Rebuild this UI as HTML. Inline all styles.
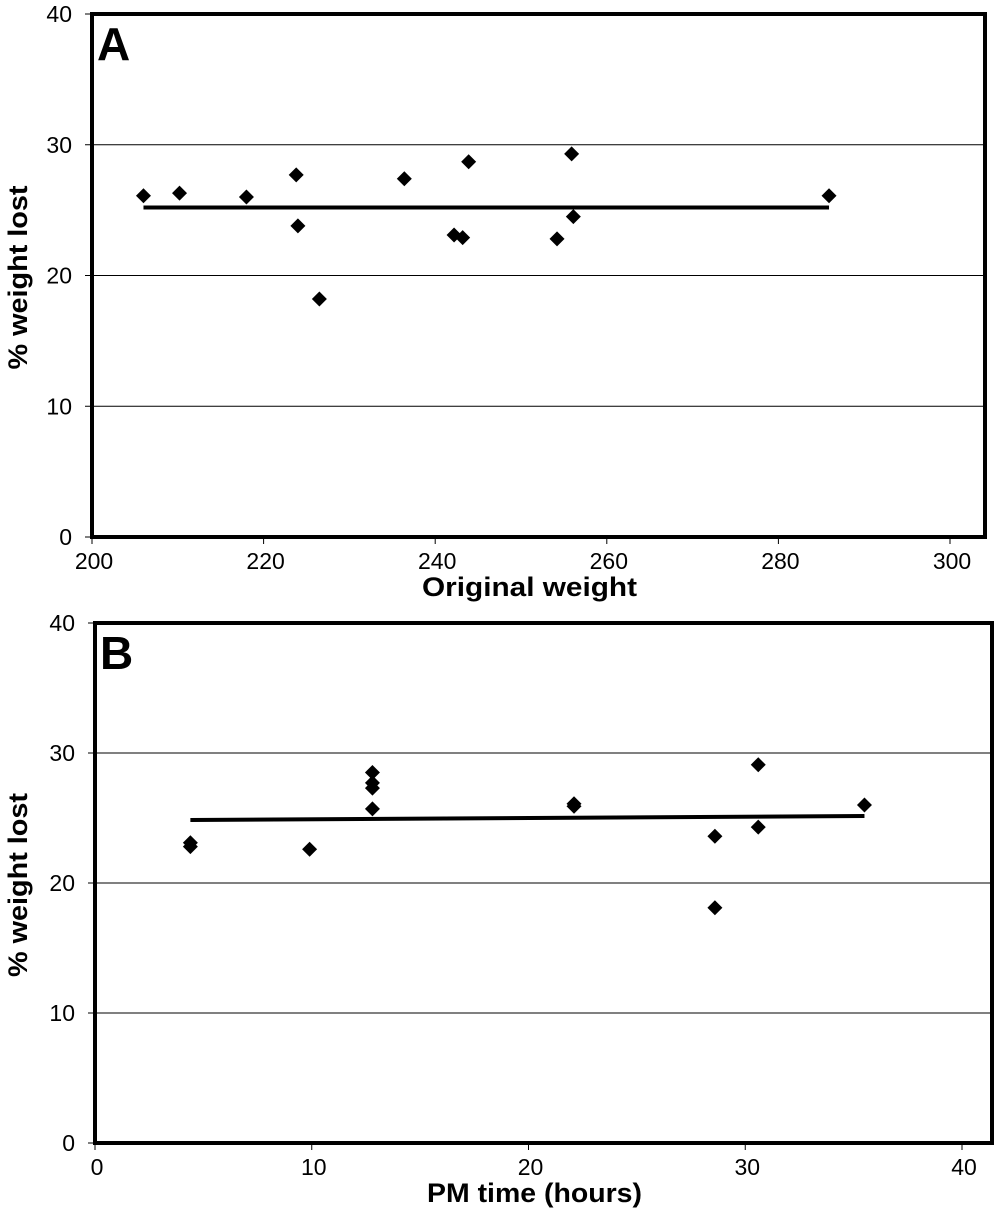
<!DOCTYPE html>
<html><head><meta charset="utf-8"><style>
body{margin:0;background:#fff}
svg text{font-family:"Liberation Sans",Arial,sans-serif}
</style></head><body>
<svg id="chart" width="1000" height="1214" xmlns="http://www.w3.org/2000/svg"></svg>
<script>
const aX=[206,210.2,218,223.8,224,226.5,236.4,242.2,243.2,243.9,254.2,255.9,256.1,285.9];
const aY=[26.1,26.3,26.0,27.7,23.8,18.2,27.4,23.1,22.9,28.7,22.8,29.3,24.5,26.1];
const aFit=[25.2,25.2];
const aXTicks=[200,220,240,260,280,300];
const bX=[4.4,4.4,9.9,12.8,12.8,12.8,12.8,22.1,22.1,28.6,28.6,30.6,30.6,35.5];
const bY=[23.1,22.8,22.6,28.5,27.7,27.3,25.7,26.1,25.9,23.6,18.1,29.1,24.3,26.0];
const bFit=[24.85,25.15];
const bXTicks=[0,10,20,30,40];
const yTicks=[0,10,20,30,40];
const NS="http://www.w3.org/2000/svg";
const svg=document.getElementById('chart');
function mk(t,a,p){const e=document.createElementNS(NS,t);for(const k in a)e.setAttribute(k,a[k]);(p||svg).appendChild(e);return e;}
function panel(cfg){
  const g=mk('g',{});
  
  
  const sx=v=>cfg.x0+(v-cfg.xmin)/(cfg.xmax-cfg.xmin)*(cfg.x1-cfg.x0);
  const sy=v=>cfg.y0-(v/40)*(cfg.y0-cfg.y1);
  yTicks.forEach(t=>{
    if(t>0&&t<40){const l=mk('line',{x1:cfg.x0,x2:cfg.right,y1:sy(t),y2:sy(t),stroke:'#000','stroke-width':1},g);
    
    }
    const tk=mk('line',{x1:cfg.x0-7,x2:cfg.x0,y1:sy(t),y2:sy(t),stroke:'#000','stroke-width':1},g);
    
    
    const tx=mk('text',{x:cfg.x0-20,y:sy(t)+8,'text-anchor':'end','font-size':23},g);tx.textContent=t;
    
    
  });
  cfg.ticks.forEach(t=>{
    const tk=mk('line',{x1:sx(t),x2:sx(t),y1:cfg.y0,y2:cfg.y0+7,stroke:'#000','stroke-width':1},g);
    
    
    const tx=mk('text',{x:sx(t)+2,y:cfg.y0+32,'text-anchor':'middle','font-size':23},g);tx.textContent=t;
    
    
  });
  const fr=mk('rect',{x:cfg.x0,y:cfg.y1,width:cfg.right-cfg.x0,height:cfg.y0-cfg.y1,fill:'none',stroke:'#000','stroke-width':4},g);
  
  
  const fl=mk('line',{x1:sx(cfg.xs[0]),x2:sx(Math.max(...cfg.xs)),y1:sy(cfg.fit[0]),y2:sy(cfg.fit[1]),stroke:'#000','stroke-width':4},g);
  
  
  cfg.xs.forEach((v,i)=>{
    const cx=sx(v),cy=sy(cfg.ys[i]);
    const p=mk('polygon',{points:`${cx},${cy-7.5} ${cx+7.5},${cy} ${cx},${cy+7.5} ${cx-7.5},${cy}`,fill:'#000'},g);
    
    
  });
  const L=mk('text',{x:cfg.x0+5,y:cfg.y1+46,'font-size':46,'font-weight':'bold'},g);L.textContent=cfg.letter;
  
  
  const xt=mk('text',{x:(cfg.x0+cfg.right)/2-9,y:cfg.y0+59,'text-anchor':'middle','font-size':27,'font-weight':'bold',textLength:cfg.xlen,lengthAdjust:'spacingAndGlyphs'},g);xt.textContent=cfg.xtitle;
  
  
  const yc=(cfg.y0+cfg.y1)/2+2;
  const yt=mk('text',{x:27,y:yc,'text-anchor':'middle','font-size':27,'font-weight':'bold',textLength:184,lengthAdjust:'spacingAndGlyphs',transform:`rotate(-90 27 ${yc})`},g);yt.textContent='% weight lost';
  
  
}
panel({letter:'A',x0:92,x1:950,xmin:200,xmax:300,right:985,y0:537,y1:14,xs:aX,ys:aY,fit:aFit,ticks:aXTicks,xtitle:'Original weight',xlen:215});
panel({letter:'B',x0:95,x1:962,xmin:0,xmax:40,right:992,y0:1143,y1:623,xs:bX,ys:bY,fit:bFit,ticks:bXTicks,xtitle:'PM time (hours)',xlen:215});
</script>
</body></html>
